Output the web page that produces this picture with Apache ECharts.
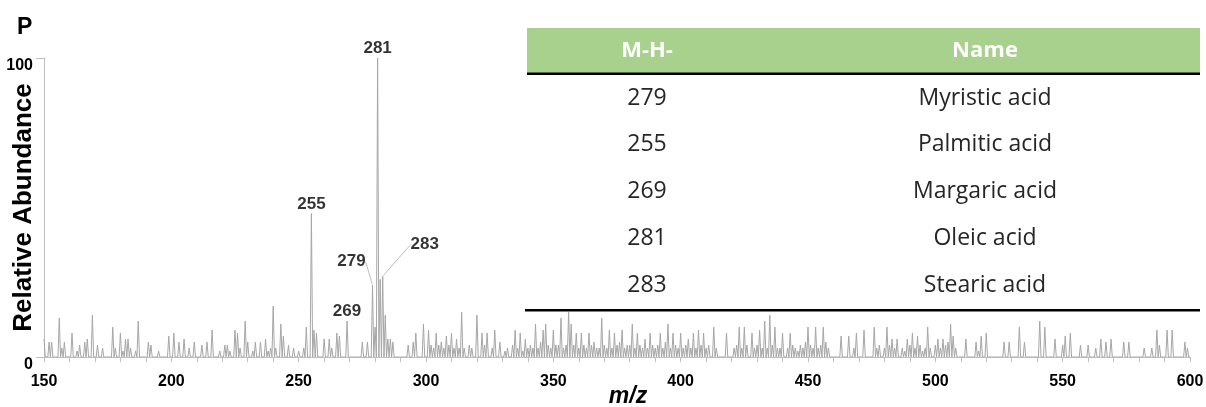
<!DOCTYPE html>
<html>
<head>
<meta charset="utf-8">
<script src="https://cdn.jsdelivr.net/npm/echarts@6/dist/echarts.min.js"></script>
<style>
html,body{margin:0;padding:0;background:#fff;}
#chart{width:1206px;height:407px;}
</style>
</head>
<body>
<div id="chart"></div>
<script>
// m/z start and relative abundance (%) for every integer m/z from 150 to 600
const mzStart = 150;
const abundance = [
  6,0,5,5,0,0,13,3,5,0,
  0,8,0,2,4,0,5,6,0,14,
  0,4,0,3,0,0,0,10,3,0,
  8,2,6,6,3,0,2,12,0,0,
  0,5,4,0,0,2,0,0,0,7,
  0,8,0,5,0,6,0,3,0,5,
  0,0,4,0,5,0,9,0,0,2,
  0,4,4,2,0,9,8,3,0,12,
  5,0,2,5,0,5,0,6,2,3,
  17,3,0,11,7,0,4,0,3,0,
  2,0,3,10,0,48,9,8,0,0,
  6,0,6,3,0,8,7,0,0,12,
  0,0,0,0,0,5,0,5,0,24,
  10,100,26,27,14,6,6,5,0,0,
  0,0,0,4,0,5,8,0,0,11,
  0,9,4,3,8,4,5,3,7,4,
  8,3,6,3,15,3,0,4,3,0,
  14,0,8,4,8,0,3,9,0,5,
  0,2,3,0,4,9,3,8,2,6,
  3,4,3,11,3,5,9,11,4,3,
  9,4,4,13,3,4,15,11,4,8,
  3,8,4,3,8,4,5,3,3,13,
  4,3,9,3,8,4,5,9,3,4,
  4,11,3,8,4,3,6,3,8,4,
  3,4,8,3,5,11,3,8,4,3,
  8,3,4,6,3,8,3,9,4,8,
  3,4,0,10,3,0,0,0,8,0,
  0,3,4,10,3,10,4,0,8,3,
  4,9,3,12,3,14,4,10,3,3,
  8,0,3,8,4,3,2,4,3,5,
  10,4,3,10,3,4,10,5,3,0,
  0,0,0,7,0,0,7,0,3,8,
  0,0,9,0,0,0,10,3,4,0,
  3,10,4,6,3,6,0,3,2,6,
  4,8,3,7,4,2,3,10,3,0,
  4,6,3,6,4,5,11,7,3,0,
  0,0,6,0,0,0,5,2,7,0,
  8,0,0,0,0,0,0,5,0,5,
  0,0,0,10,0,5,0,0,0,0,
  0,12,0,10,0,0,0,6,0,0,
  4,7,0,8,0,0,0,4,0,0,
  4,0,0,3,0,6,0,5,0,6,
  0,0,0,0,5,0,5,0,0,0,
  0,0,3,0,0,3,0,9,4,0,
  0,9,0,9,0,0,0,0,5,3,
  0
];
// labelled peaks
const labelledPeaks = [255, 269, 279, 281, 283];
// table
const tableHeaders = ['M-H-', 'Name'];
const tableMH = ['279', '255', '269', '281', '283'];
const tableNames = ['Myristic acid', 'Palmitic acid', 'Margaric acid', 'Oleic acid', 'Stearic acid'];
const xTickLabels = [150, 200, 250, 300, 350, 400, 450, 500, 550, 600];

// build spectrum trace (baseline between integer sticks)
const trace = [];
abundance.forEach((v, i) => {
  const mz = mzStart + i;
  if (i > 0) trace.push([mz - 0.5, 0]);
  trace.push([mz, v]);
});

const offsets = {279: [-21, -14], 283: [42, -22]};
const peakData = labelledPeaks.map(mz => {
  const item = {value: [mz, abundance[mz - mzStart]], name: String(mz)};
  if (offsets[mz]) item.labelLine = {show: true};
  return item;
});

const sans = "'Liberation Sans', Arial, sans-serif";
const tableFont = "'Open Sans', 'Noto Sans', sans-serif";

// table graphics
const tLeft = 527, tRight = 1200, col1 = 647, col2 = 985;
const headerTop = 28, headerBottom = 73, rowY0 = 98, rowStep = 46.8, bottomLine = 310;
const graphics = [
  {type: 'rect', shape: {x: tLeft, y: headerTop, width: tRight - tLeft, height: headerBottom - headerTop}, style: {fill: '#a9d18e'}, z: 10},
  {type: 'rect', shape: {x: tLeft, y: headerBottom - 0.5, width: tRight - tLeft, height: 2.5}, style: {fill: '#000'}, z: 11},
  {type: 'rect', shape: {x: tLeft - 2, y: bottomLine - 1, width: tRight - tLeft + 2, height: 2.5}, style: {fill: '#000'}, z: 11}
];
[col1, col2].forEach((cx, k) => {
  graphics.push({type: 'text', x: cx, y: (headerTop + headerBottom) / 2, z: 12,
    style: {text: tableHeaders[k], fill: '#fff', font: 'bold 22px ' + tableFont, align: 'center', verticalAlign: 'middle'}});
});
tableMH.forEach((m, i) => {
  const y = rowY0 + i * rowStep;
  graphics.push({type: 'text', x: col1, y: y, z: 12,
    style: {text: m, fill: '#262626', font: '23px ' + tableFont, align: 'center', verticalAlign: 'middle'}});
  graphics.push({type: 'text', x: col2, y: y, z: 12,
    style: {text: tableNames[i], fill: '#262626', font: '23px ' + tableFont, align: 'center', verticalAlign: 'middle'}});
});

const chart = echarts.init(document.getElementById('chart'), null, {renderer: 'canvas'});
chart.setOption({
  animation: false,
  backgroundColor: '#fff',
  title: {text: 'P', left: 12, top: 11, textStyle: {fontFamily: sans, fontWeight: 'bold', fontSize: 23, color: '#000'}},
  grid: {left: 44, right: 16, top: 58, bottom: 50, containLabel: false, outerBoundsMode: 'none'},
  xAxis: {
    type: 'value', min: 150, max: 600, interval: 10,
    name: 'm/z', nameLocation: 'middle', nameGap: 28, nameMoveOverlap: false,
    nameTextStyle: {fontFamily: sans, fontStyle: 'italic', fontWeight: 'bold', fontSize: 23, color: '#000', padding: [0, 0, 0, 22]},
    axisLine: {lineStyle: {color: '#bfbfbf', width: 1}},
    axisTick: {length: 5, lineStyle: {color: '#bfbfbf'}},
    axisLabel: {
      margin: 17, color: '#000', fontFamily: sans, fontWeight: 'bold', fontSize: 16,
      formatter: v => xTickLabels.indexOf(v) >= 0 ? String(v) : ''
    },
    splitLine: {show: false}
  },
  yAxis: {
    type: 'value', min: 0, max: 100, interval: 100,
    name: 'Relative Abundance', nameLocation: 'middle', nameRotate: 90, nameGap: 7, nameMoveOverlap: false,
    nameTextStyle: {fontFamily: sans, fontWeight: 'bold', fontSize: 26, color: '#000'},
    axisLine: {show: true, lineStyle: {color: '#bfbfbf', width: 1}},
    axisTick: {show: true, length: 8, lineStyle: {color: '#bfbfbf'}},
    axisLabel: {margin: 11, color: '#000', fontFamily: sans, fontWeight: 'bold', fontSize: 16, verticalAlign: 'top'},
    splitLine: {show: false}
  },
  series: [
    {
      type: 'line', data: trace, symbol: 'none', z: 2,
      lineStyle: {color: '#a6a6a6', width: 1}
    },
    {
      type: 'scatter', data: peakData, symbolSize: 2, z: 3,
      itemStyle: {color: 'rgba(0,0,0,0)'},
      label: {show: true, position: 'top', distance: 0, formatter: p => p.name,
        fontFamily: sans, fontWeight: 'bold', fontSize: 17, color: '#000'},
      labelLine: {show: false, lineStyle: {color: '#bfbfbf', width: 1}},
      labelLayout: function (p) {
        const mz = labelledPeaks[p.dataIndex];
        if (offsets[mz]) return {dx: offsets[mz][0], dy: offsets[mz][1]};
        return {};
      }
    }
  ],
  graphic: graphics
});
</script>
</body>
</html>
